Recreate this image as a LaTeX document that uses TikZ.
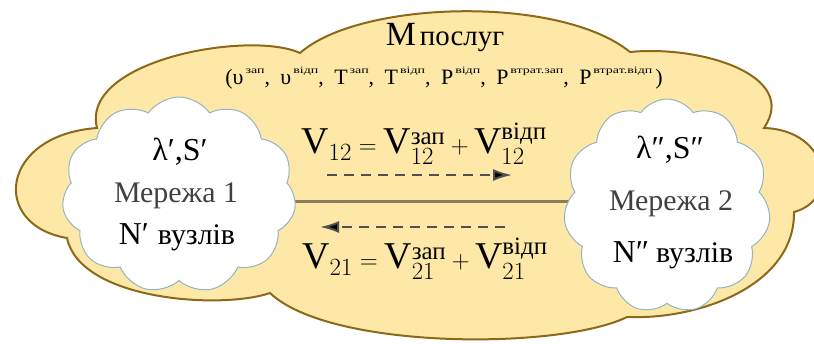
\documentclass[tikz,border=0pt]{standalone}
\usepackage{fontspec}
\usepackage{amsmath}
\usepackage{graphicx}
\setmainfont{Liberation Serif}
\usetikzlibrary{shapes.symbols,arrows.meta}
\definecolor{cloudfill}{RGB}{253,232,168}
\definecolor{cloudline}{RGB}{140,105,25}
\definecolor{smallline}{RGB}{150,180,190}
\definecolor{linkcol}{RGB}{140,125,90}
\definecolor{arrcol}{RGB}{80,80,80}
\newcommand{\supx}[1]{\hspace{2bp}\raisebox{11bp}{\scalebox{1}[0.7]{\fontsize{14}{14}\selectfont #1}}}
\newcommand{\cm}{,\hspace{10.5bp}}
\newcommand{\eqsup}[1]{\mbox{\fontsize{25}{25}\selectfont #1}}
\begin{document}
\begin{tikzpicture}[x=1bp,y=-1bp,
  smallcloud/.style={cloud, cloud puffs=11, cloud puff arc=110, cloud ignores aspect,
    draw=smallline, line width=1bp, fill=white, inner sep=0pt},
  flowarrow/.style={dash pattern=on 10bp off 7bp, draw=arrcol, line width=2bp,
    -{Latex[length=19bp,width=12bp,fill=black]}},
  txt/.style={anchor=base, inner sep=0pt, font=\fontsize{32}{36}\selectfont},
  greytxt/.style={anchor=base, inner sep=0pt, font=\fontsize{30}{34}\selectfont, text=black!75},
  eqn/.style={anchor=base, inner sep=0pt, font=\fontsize{38}{44}\selectfont}]
\useasboundingbox (0,0) rectangle (814,343);
% big cloud
\path[draw=cloudline, fill=cloudfill, line width=2bp]
  (97,128) .. controls (80,60) and (250,30) .. (300,53)
  .. controls (360,0) and (560,-5) .. (630,52)
  .. controls (700,45) and (800,75) .. (764,128)
  .. controls (830,130) and (840,200) .. (794,212)
  .. controls (795,285) and (700,320) .. (627,317)
  .. controls (560,350) and (330,350) .. (270,293)
  .. controls (220,310) and (80,300) .. (67,238)
  .. controls (-10,225) and (0,135) .. cycle;
% link
\coordinate (la) at (179,201);
\coordinate (lb) at (667,201);
\draw[draw=linkcol, line width=3bp] (la) -- (lb);
% small clouds
\node[smallcloud, minimum width=234bp, minimum height=196bp] (net1) at (179,195) {};
\node[smallcloud, minimum width=207bp, minimum height=214bp] (net2) at (667,206) {};
% titles
\node[anchor=base, inner sep=0pt] (title) at (445,45)
  {{\fontsize{34}{38}\selectfont M}\hspace{4bp}{\fontsize{29}{32}\selectfont послуг}};
\node[anchor=base, inner sep=0pt, font=\fontsize{22}{26}\selectfont] (params) at (444,84)
  {(υ\supx{зап}\cm υ\supx{відп}\cm T\supx{зап}\cm T\supx{відп}\cm P\supx{відп}\cm P\supx{втрат.зап}\cm P\supx{втрат.відп}\hspace{3bp})};
% equations
\node[eqn] (eq1) at (424,153)
  {$\mathrm{V}_{12}=\mathrm{V}^{\eqsup{зап}}_{12}+\mathrm{V}^{\eqsup{відп}}_{12}$};
\node[eqn] (eq2) at (425,268)
  {$\mathrm{V}_{21}=\mathrm{V}^{\eqsup{зап}}_{21}+\mathrm{V}^{\eqsup{відп}}_{21}$};
% arrows
\coordinate (a1s) at (327,175);
\coordinate (a1e) at (512,175);
\coordinate (a2s) at (505,227);
\coordinate (a2e) at (320,227);
\draw[flowarrow] (a1s) -- (a1e);
\draw[flowarrow] (a2s) -- (a2e);
% cloud texts
\node[txt] (ls1) at (180,160) {λ′,S′};
\node[greytxt] (m1) at (176,202) {Мережа 1};
\node[txt] (n1) at (177,244) {N′\hspace{9bp}{\fontsize{30}{34}\selectfont вузлів}};
\node[txt] (ls2) at (670,158) {λ″,S″};
\node[greytxt] (m2) at (671,210) {Мережа 2};
\node[txt] (n2) at (673,262) {N″\hspace{7bp}{\fontsize{30}{34}\selectfont вузлів}};
\end{tikzpicture}
\end{document}
